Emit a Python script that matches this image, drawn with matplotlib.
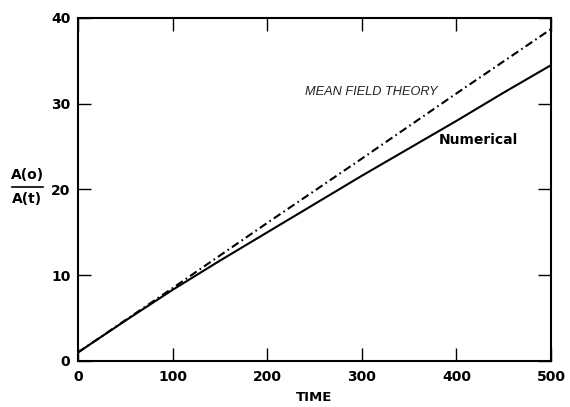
import matplotlib.pyplot as plt
from matplotlib.lines import Line2D

plt.rcParams['font.family'] = ['DejaVu Sans']
plt.rcParams['lines.scale_dashes'] = False

# data
time = [0, 50, 100, 150, 200, 250, 300, 350, 400, 450, 500]
numerical = [1.0, 4.7, 8.3, 11.7, 15.0, 18.3, 21.6, 24.8, 28.0, 31.3, 34.5]
mean_field = [1.0, 4.75, 8.5, 12.3, 16.1, 19.85, 23.6, 27.4, 31.2, 34.95, 38.7]

x_ticks = [0, 100, 200, 300, 400, 500]
y_ticks = [0, 10, 20, 30, 40]

fig = plt.figure(figsize=(5.7, 4.07), dpi=100)
ax = fig.add_axes([78 / 570, 1 - 361 / 407, (551 - 78) / 570, (361 - 18) / 407])

ax.plot(time, numerical, color='black', linewidth=1.5)
ax.plot(time, mean_field, color='black', linewidth=1.5,
        dashes=(5.8, 2.6, 1.2, 2.6))

ax.set_xlim(0, 500)
ax.set_ylim(0, 40)
ax.set_xticks(x_ticks)
ax.set_yticks(y_ticks)
ax.tick_params(direction='in', length=9.5, width=1.0, top=True, right=True,
               labelsize=10)
ax.tick_params(axis='x', pad=6.5)
ax.tick_params(axis='y', pad=5.5)
for lbl in ax.get_xticklabels() + ax.get_yticklabels():
    lbl.set_fontweight('bold')
for sp in ax.spines.values():
    sp.set_linewidth(1.5)

ax.set_xlabel('TIME', fontsize=9.5, fontweight='bold', labelpad=5)

# curve labels
ax.text(240, 31.4, 'MEAN FIELD THEORY', fontsize=9.2, style='italic',
        color='#222222', va='center', family='Liberation Sans')
ax.text(381, 25.8, 'Numerical', fontsize=10, fontweight='bold', va='center')

# y label as a stacked fraction
fig.text(27.5 / 570, 1 - 175 / 407, 'A(o)', ha='center', va='center',
         fontsize=10, fontweight='bold')
fig.text(27.5 / 570, 1 - 199 / 407, 'A(t)', ha='center', va='center',
         fontsize=10, fontweight='bold')
fig.add_artist(Line2D([12 / 570, 43 / 570], [1 - 187 / 407, 1 - 187 / 407],
                      color='black', linewidth=1.2))

fig.savefig('out.png', dpi=100)
